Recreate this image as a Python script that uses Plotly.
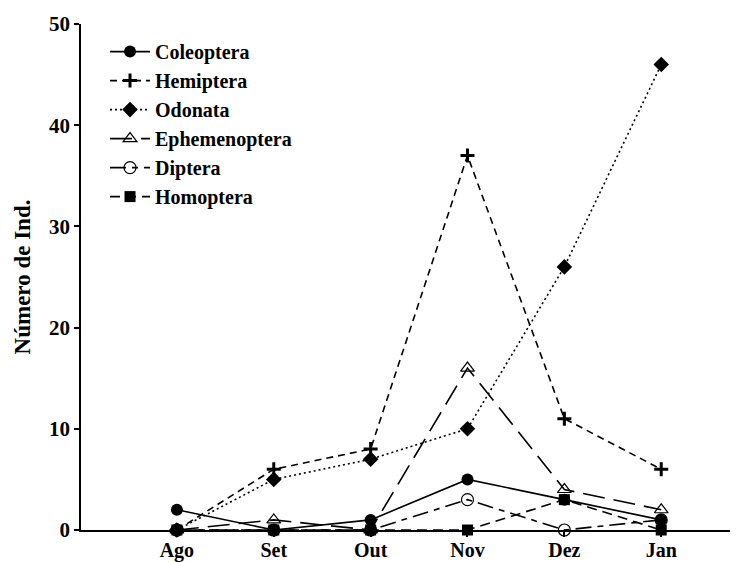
import plotly.graph_objects as go

# Monthly counts of individuals per insect order
months = ["Ago", "Set", "Out", "Nov", "Dez", "Jan"]
coleoptera = [2, 0, 1, 5, 3, 1]
hemiptera = [0, 6, 8, 37, 11, 6]
odonata = [0, 5, 7, 10, 26, 46]
ephemenoptera = [0, 1, 0, 16, 4, 2]
diptera = [0, 0, 0, 3, 0, 1]
homoptera = [0, 0, 0, 0, 3, 0]

y_ticks = [0, 10, 20, 30, 40, 50]

xpos = list(range(len(months)))
font_fam = "Liberation Serif, Times New Roman, serif"

series = [
    ("Coleoptera", coleoptera, "solid", dict(symbol="circle", size=12, color="black")),
    ("Hemiptera", hemiptera, "7px,5px", dict(symbol="cross-thin", size=10,
                                             line=dict(width=3, color="black"))),
    ("Odonata", odonata, "2px,3px", dict(symbol="diamond", size=12, color="black")),
    ("Ephemenoptera", ephemenoptera, "22px,9px", dict(symbol="triangle-up-open", size=12,
                                                      color="black",
                                                      line=dict(width=1.2, color="black"))),
    ("Diptera", diptera, "16px,6px,6px,6px", dict(symbol="circle-open", size=12, color="black",
                                                  line=dict(width=1.2, color="black"))),
    ("Homoptera", homoptera, "10px,6px", dict(symbol="square", size=11, color="black")),
]

fig = go.Figure()
for i, (name, vals, dash, marker) in enumerate(series):
    fig.add_trace(go.Scatter(
        x=xpos, y=vals, name=name, mode="lines+markers",
        line=dict(color="black", width=1.6, dash=dash),
        marker=marker, legendgroup=f"g{i}",
        cliponaxis=False,
    ))

fig.update_layout(
    width=747, height=562,
    margin=dict(l=81, r=17, t=24, b=32),
    paper_bgcolor="white", plot_bgcolor="white",
    font=dict(family=font_fam, size=21, color="black"),
    showlegend=True,
    legend=dict(
        x=0.037, y=0.984, xanchor="left", yanchor="top",
        font=dict(family=font_fam, size=20, color="black", weight="bold"),
        bgcolor="rgba(0,0,0,0)", tracegroupgap=0, itemwidth=40,
    ),
    xaxis=dict(
        range=[-0.99, 5.71], tickmode="array", tickvals=xpos, ticktext=months,
        showgrid=False, zeroline=False, showline=True, linecolor="black", linewidth=1.5,
        ticks="outside", ticklen=5, tickwidth=1.5, tickcolor="black",
        tickfont=dict(family=font_fam, size=20, weight="bold"),
        ticklabelstandoff=-4, automargin=False,
    ),
    yaxis=dict(
        range=[0, 50], tickmode="array", tickvals=y_ticks,
        showgrid=False, zeroline=False, showline=True, linecolor="black", linewidth=1.5,
        ticks="outside", ticklen=5, tickwidth=1.5, tickcolor="black",
        tickfont=dict(family=font_fam, size=21, weight="bold"),
        automargin=False,
        title=dict(text="Número de Ind.", font=dict(family=font_fam, size=23, weight="bold"),
                   standoff=12),
    ),
)

fig.write_html("out.html")
